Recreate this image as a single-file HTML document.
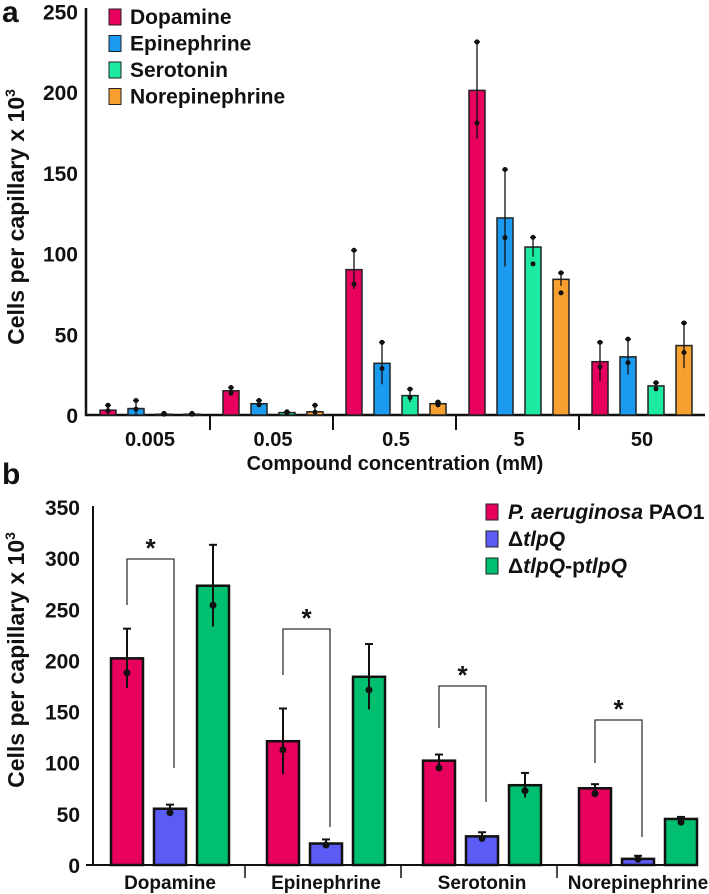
<!DOCTYPE html>
<html><head><meta charset="utf-8"><style>
html,body{margin:0;padding:0;background:#fff}
svg{display:block}
text{font-family:"Liberation Sans",sans-serif;font-weight:bold;fill:#111}
</style></head><body>
<svg id="chart" width="709" height="894" viewBox="0 0 709 894">
<text x="2" y="22" font-size="30">a</text>
<text x="2" y="484" font-size="30">b</text>
<text transform="translate(24,217) rotate(-90)" text-anchor="middle" font-size="23">Cells per capillary x 10<tspan font-size="14" dy="-9">3</tspan></text>
<text transform="translate(24,660) rotate(-90)" text-anchor="middle" font-size="23">Cells per capillary x 10<tspan font-size="14" dy="-9">3</tspan></text>
<text x="395" y="470" text-anchor="middle" font-size="20">Compound concentration (mM)</text>
<g id="ga"></g><g id="gb"></g>
</svg>
<script>
const NS="http://www.w3.org/2000/svg";
const catsA=["0.005","0.05","0.5","5","50"];
const seriesA=["Dopamine","Epinephrine","Serotonin","Norepinephrine"];
const dopA=[3,15,90,201,33];
const epiA=[4,7,32,122,36];
const serA=[0.5,1.5,12,104,18];
const norA=[0.5,2,7,84,43];
const dopErrA=[6,17,102,231,45];
const epiErrA=[9,9,45,152,47];
const serErrA=[1,2,16,110,20];
const norErrA=[1,6,8,88,57];
const ticksA=[0,50,100,150,200,250];
const catsB=["Dopamine","Epinephrine","Serotonin","Norepinephrine"];
const seriesB=["PAO1","tlpQ","tlpQ-ptlpQ"];
const paoB=[202,121,102,75];
const tlpB=[55,21,28,6];
const compB=[273,184,78,45];
const paoErrB=[231,153,108,79];
const tlpErrB=[59,25,32,9];
const compErrB=[313,216,90,47];
const ticksB=[0,50,100,150,200,250,300,350];

function el(tag,attrs,parent,txt){const e=document.createElementNS(NS,tag);for(const k in attrs)e.setAttribute(k,attrs[k]);if(txt!==undefined)e.textContent=txt;parent.appendChild(e);return e;}

// Panel A
const ga=document.getElementById('ga');
const yA=v=>415-v*1.615;
const colA=["#e8005f","#1a9af0","#1de9a0","#f7a030"];
const valsA=[dopA,epiA,serA,norA], errA=[dopErrA,epiErrA,serErrA,norErrA];
const gx0A=100,gstepA=123,bstepA=28,bwA=16;
el('line',{x1:86,y1:8,x2:86,y2:416,stroke:'#111','stroke-width':2.5},ga);
el('line',{x1:85,y1:415,x2:705,y2:415,stroke:'#111','stroke-width':2.5},ga);
ticksA.forEach(t=>{const e=el('text',{x:78,y:yA(t)+8,'text-anchor':'end','font-size':21},ga,String(t));
});
catsA.forEach((c,i)=>{const gx=gx0A+i*gstepA;
 if(i>0){const s=el('line',{x1:gx-13,y1:415,x2:gx-13,y2:430,stroke:'#111','stroke-width':2},ga);}
 const t=el('text',{x:gx+bstepA*1.5+bwA/2,y:446,'text-anchor':'middle','font-size':20},ga,c);
 
 valsA.forEach((arr,s)=>{const x=gx+s*bstepA,v=arr[i];
  const r=el('rect',{x:x,y:yA(v),width:bwA,height:415-yA(v),fill:colA[s],stroke:'#222','stroke-width':1.5},ga);
  
  const e=errA[s][i];
  el('line',{x1:x+bwA/2,y1:yA(e),x2:x+bwA/2,y2:yA(Math.max(0,2*v-e)),stroke:'#111','stroke-width':1.3},ga);
  el('line',{x1:x+bwA/2-3,y1:yA(e),x2:x+bwA/2+3,y2:yA(e),stroke:'#111','stroke-width':1.3},ga);
  el('circle',{cx:x+bwA/2,cy:yA(e),r:2.5,fill:'#111'},ga);
  el('circle',{cx:x+bwA/2,cy:yA(v*0.9),r:2.5,fill:'#111'},ga);
 });});
seriesA.forEach((s,i)=>{const y=17+i*26.5;
 const r=el('rect',{x:109,y:y-8,width:12,height:16,fill:colA[i],stroke:'#222','stroke-width':1},ga);
 
 const t=el('text',{x:130,y:y+7,'font-size':21},ga,s);
 });

// Panel B
const gb=document.getElementById('gb');
const yB=v=>865-v*1.023;
const colB=["#e8005f","#5b5bf5","#00bf6f"];
const valsB=[paoB,tlpB,compB], errB=[paoErrB,tlpErrB,compErrB];
const gx0B=111,gstepB=156,bstepB=43,bwB=32;
el('line',{x1:93,y1:506,x2:93,y2:866,stroke:'#111','stroke-width':2},gb);
el('line',{x1:86,y1:865,x2:698,y2:865,stroke:'#111','stroke-width':2},gb);
ticksB.forEach(t=>{const e=el('text',{x:80,y:yB(t)+8,'text-anchor':'end','font-size':21},gb,String(t));
});
const brTop=[559,629,686,720],brL=[605,675,728,763],brR=[768,827,802,837];
catsB.forEach((c,i)=>{const gx=gx0B+i*gstepB;
 if(i>0){const s=el('line',{x1:gx-22,y1:865,x2:gx-22,y2:878,stroke:'#111','stroke-width':1.5},gb);}
 const t=el('text',{x:gx+bstepB+bwB/2,y:889,'text-anchor':'middle','font-size':19},gb,c);
 
 valsB.forEach((arr,s)=>{const x=gx+s*bstepB,v=arr[i];
  const r=el('rect',{x:x,y:yB(v),width:bwB,height:865-yB(v),fill:colB[s],stroke:'#111','stroke-width':2.5},gb);
  
  const e=errB[s][i];
  el('line',{x1:x+bwB/2,y1:yB(e),x2:x+bwB/2,y2:yB(Math.max(0,2*v-e)),stroke:'#111','stroke-width':2},gb);
  el('line',{x1:x+bwB/2-4,y1:yB(e),x2:x+bwB/2+4,y2:yB(e),stroke:'#111','stroke-width':2},gb);
  el('circle',{cx:x+bwB/2,cy:yB(v*0.93),r:3.5,fill:'#111'},gb);
 });
 const lx=gx+bwB/2,rx=gx+bstepB+bwB/2+4;
 const p=el('path',{d:`M${lx},${brL[i]}V${brTop[i]}H${rx}V${brR[i]}`,fill:'none',stroke:'#333','stroke-width':1.3},gb);
 
 const st=el('text',{x:(lx+rx)/2,y:brTop[i]-2,'text-anchor':'middle','font-size':26},gb,'*');
 
});
const legB=[["","P. aeruginosa"," PAO1"],["Δ","tlpQ",""],["Δ","tlpQ","-p"]];
for(let i=0;i<3;i++){const y=512+i*27;
 const r=el('rect',{x:486,y:y-8,width:12,height:16,fill:colB[i],stroke:'#222','stroke-width':1},gb);
 
 const t=el('text',{x:508,y:y+7,'font-size':21},gb);
 
 el('tspan',{},t,legB[i][0]);el('tspan',{'font-style':'italic'},t,legB[i][1]);el('tspan',{},t,legB[i][2]);
 if(i==2){el('tspan',{'font-style':'italic'},t,'tlpQ');}
}
</script>
</body></html>
